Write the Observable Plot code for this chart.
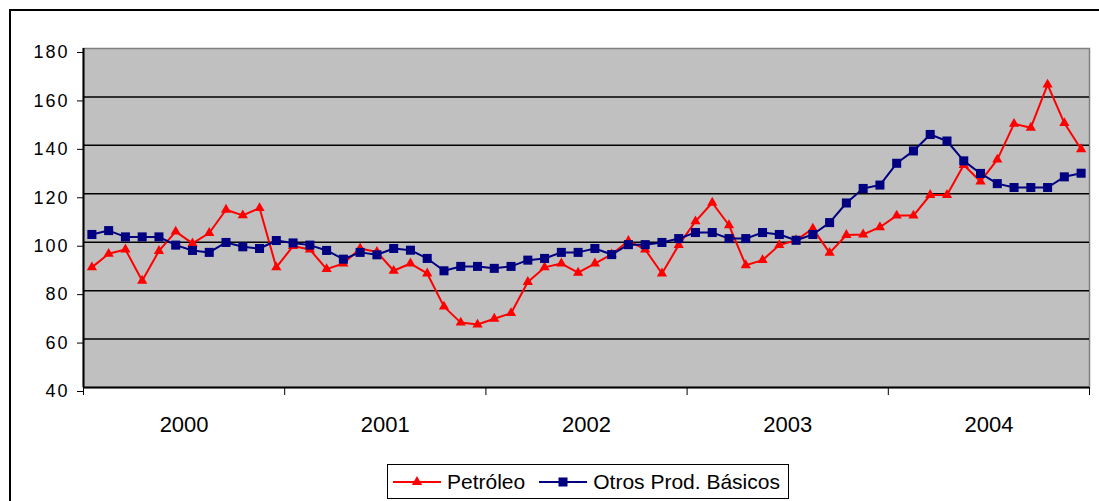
<!DOCTYPE html>
<html>
<head>
<meta charset="utf-8">
<script src="https://cdn.jsdelivr.net/npm/d3@7"></script>
<script src="https://cdn.jsdelivr.net/npm/@observablehq/plot@0.6"></script>
<style>
  html, body { margin: 0; padding: 0; background: #fff; overflow: hidden; width: 1099px; height: 501px; }
  #chart { position: relative; width: 1099px; height: 501px; font-family: "Liberation Sans", Arial, sans-serif; }
  #chart svg { display: block; }
  #frame { position: absolute; left: 9px; top: 9px; width: 1300px; height: 700px; border: 2px solid #000; pointer-events: none; }
  #legend { margin-left: 387px; margin-top: 4px; width: 400px; height: 33px; border: 1px solid #000; background: #fff;
            display: flex; align-items: center; font-size: 21px; color: #000; box-sizing: content-box; }
  #legend .item { display: flex; align-items: center; }
  #legend svg { display: block; }
</style>
</head>
<body>
<div id="chart"><div id="frame"></div></div>
<script>
// ---- data ----
const years = ["2000", "2001", "2002", "2003", "2004"];
const yTicks = [40, 60, 80, 100, 120, 140, 160, 180];
const seriesNames = ["Petróleo", "Otros Prod. Básicos"];
const petroleo = [
  89.6, 95.2, 97.0, 84.1, 96.4, 104.4, 99.5, 103.8, 113.4, 111.1, 114.1, 89.6,
  98.4, 97.0, 88.9, 91.2, 97.4, 96.0, 88.2, 91.2, 87.1, 73.4, 66.8, 66.0,
  68.4, 70.7, 83.6, 89.6, 91.2, 87.4, 91.2, 95.0, 100.5, 97.0, 87.1, 98.8,
  108.6, 116.3, 107.0, 90.5, 92.6, 98.8, 100.8, 105.6, 95.6, 103.0, 103.2, 106.2,
  111.0, 111.0, 119.5, 119.5, 131.9, 125.1, 134.1, 148.9, 147.3, 165.1, 149.2, 138.4
];
const otros = [
  103.2, 104.8, 102.2, 102.2, 102.2, 98.8, 96.6, 95.8, 99.9, 98.1, 97.4, 100.7,
  99.7, 98.8, 96.6, 93.0, 95.8, 94.8, 97.4, 96.7, 93.3, 88.2, 90.0, 90.0,
  89.2, 90.0, 92.6, 93.3, 95.8, 95.8, 97.4, 94.9, 99.0, 99.0, 99.9, 101.5,
  104.0, 104.0, 101.5, 101.5, 104.0, 103.2, 100.8, 103.2, 108.1, 116.2, 122.2, 123.6,
  132.6, 137.7, 144.5, 141.8, 133.6, 128.4, 124.2, 122.6, 122.6, 122.6, 127.0, 128.5
];
const colors = ["#FF0000", "#000080"];

// ---- table built from arrays ----
const monthsPerYear = 12;
const data = petroleo.map((p, i) => ({ t: i + 0.5, p, o: otros[i] }));
const boundaries = d3.range(0, years.length + 1).map(k => k * monthsPerYear);
const yearMids = years.map((y, k) => k * monthsPerYear + monthsPerYear / 2);
const gridValues = yTicks.filter(v => v > yTicks[0] && v < yTicks[yTicks.length - 1]);

const chart = Plot.plot({
  width: 1099,
  height: 460,
  marginLeft: 83,
  marginRight: 10,
  marginTop: 48,
  marginBottom: 73,
  style: { fontFamily: "'Liberation Sans', Arial, sans-serif", background: "transparent", color: "#000" },
  x: { domain: [0, years.length * monthsPerYear] },
  y: { domain: [yTicks[0], yTicks[yTicks.length - 1]] },
  marks: [
    Plot.frame({ fill: "#C0C0C0", stroke: "#808080", strokeWidth: 1.5 }),
    Plot.ruleY(gridValues, { stroke: "#000", strokeWidth: 1.5 }),
    Plot.line(data, { x: "t", y: "p", stroke: colors[0], strokeWidth: 2 }),
    Plot.dot(data, { x: "t", y: "p", symbol: "triangle", r: 3.8, fill: colors[0], stroke: "none" }),
    Plot.line(data, { x: "t", y: "o", stroke: colors[1], strokeWidth: 2 }),
    Plot.dot(data, { x: "t", y: "o", symbol: "square", r: 5.1, fill: colors[1], stroke: "none" }),
    Plot.ruleY([yTicks[0]], { stroke: "#000", strokeWidth: 2 }),
    Plot.ruleX([0], { stroke: "#000", strokeWidth: 2 }),
    Plot.axisY({ ticks: yTicks, tickSize: 6, tickPadding: 8, fontSize: 18, tickFormat: d => String(d), label: null, dy: 4 }),
    Plot.axisX({ ticks: boundaries, tickSize: 8, tickFormat: () => "", label: null }),
    Plot.axisX({ ticks: yearMids, tickSize: 0, tickPadding: 29, fontSize: 22, tickFormat: (d) => years[Math.floor(d / monthsPerYear)], label: null })
  ]
});

// widen the y tick labels slightly, as in the reference
d3.select(chart).selectAll('g[aria-label="y-axis tick label"] text').attr("letter-spacing", "2px");

const host = document.getElementById("chart");
host.insertBefore(chart, host.firstChild);

// ---- legend below the svg ----
const legend = document.createElement("div");
legend.id = "legend";
function swatch(color, shape) {
  const w = 48, h = 20;
  const sym = shape === "triangle"
    ? `<path d="${d3.symbol(d3.symbolTriangle, Math.PI * 3.8 * 3.8)()}" transform="translate(${w/2},${h/2})" fill="${color}"/>`
    : `<path d="${d3.symbol(d3.symbolSquare, Math.PI * 5.1 * 5.1)()}" transform="translate(${w/2},${h/2})" fill="${color}"/>`;
  return `<svg width="${w}" height="${h}"><line x1="0" x2="${w}" y1="${h/2}" y2="${h/2}" stroke="${color}" stroke-width="2"/>${sym}</svg>`;
}
legend.innerHTML =
  `<div class="item" style="margin-left:5px">${swatch(colors[0], "triangle")}<span style="margin-left:6px">${seriesNames[0]}</span></div>` +
  `<div class="item" style="margin-left:14px">${swatch(colors[1], "square")}<span style="margin-left:6px">${seriesNames[1]}</span></div>`;
host.appendChild(legend);
</script>
</body>
</html>
